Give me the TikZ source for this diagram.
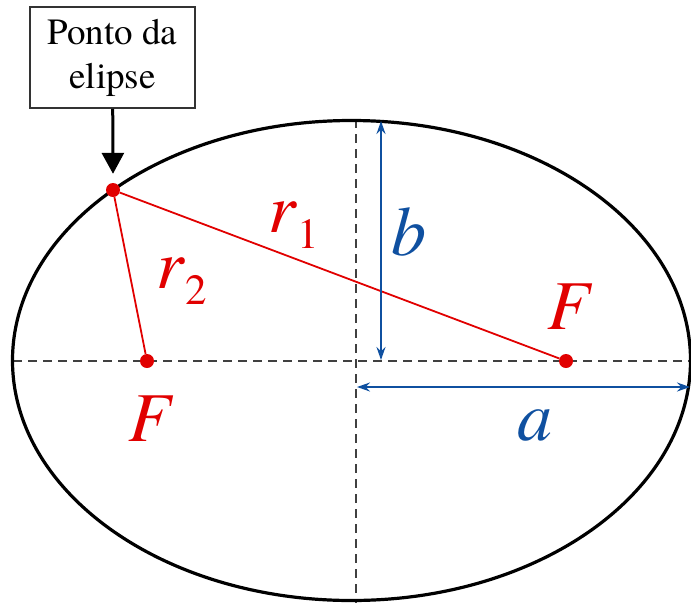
\documentclass[tikz,border=0pt]{standalone}
\usepackage{fontspec}
\setmainfont{texgyretermes}[Extension=.otf, UprightFont=*-regular, ItalicFont=*-italic, BoldFont=*-bold, BoldItalicFont=*-bolditalic]
\usetikzlibrary{arrows.meta, positioning}

\definecolor{ptred}{RGB}{225,0,0}
\definecolor{ptblue}{RGB}{15,80,160}

\newcommand{\rsub}[1]{\textit{r}\raisebox{-16pt}{\fontsize{43}{43}\selectfont #1}}

\begin{document}
\begin{tikzpicture}[
    x=1pt, y=-1pt,
    box/.style={rectangle, draw=black!80, line width=1.5pt, fill=white, align=center, font=\fontsize{37}{44}\selectfont, minimum width=165pt, minimum height=101pt, inner sep=0pt},
    arrow/.style={-{Triangle[width=22pt,length=21pt]}, line width=3pt},
    axisline/.style={dash pattern=on 9pt off 6pt, line width=1.8pt, black!75},
    dot/.style={circle, fill=ptred, inner sep=0pt, minimum size=14pt},
    rline/.style={ptred, line width=1.8pt},
    dim/.style={{Stealth[length=13pt,width=9pt]}-{Stealth[length=13pt,width=9pt]}, ptblue, line width=1.8pt},
    sym/.style={font=\fontsize{70}{70}\selectfont, inner sep=0pt}
]
\useasboundingbox (0,0) rectangle (691,603);

% Axes
\coordinate (W) at (13,361);
\coordinate (E) at (691,361);
\coordinate (N) at (356,119);
\coordinate (S) at (356,603);
\draw[axisline] (W) -- (E);
\draw[axisline] (N) -- (S);

% Ellipse
\coordinate (O) at (351.5,360.5);
\draw[line width=3.2pt] (O) ellipse [x radius=339, y radius=240];

% Foci and point
\node[dot] (F1) at (147,361) {};
\node[dot] (F2) at (566,361) {};
\node[dot] (P) at (113,190) {};

\draw[rline] (P) -- (F1);
\draw[rline] (P) -- (F2);

% Focus labels
\node[sym, text=ptred, below=27pt of F1, xshift=4pt] (lf1) {\textit{F}};
\node[sym, text=ptred, above=24pt of F2, xshift=4pt] (lf2) {\textit{F}};
\node[sym, text=ptred, anchor=base west] (lr1) at (268,232) {\rsub{1}};
\node[sym, text=ptred, anchor=base west] (lr2) at (156,288) {\rsub{2}};

% Semi-axes
\coordinate (btop) at (381,121);
\coordinate (bbot) at (381,360);
\coordinate (aleft) at (357,387);
\coordinate (aright) at (690,387);
\draw[dim] (btop) -- (bbot);
\draw[dim] (aleft) -- (aright);
\node[sym, text=ptblue, anchor=base] (lb) at (409,255) {\textit{b}};
\node[sym, text=ptblue, anchor=base] (la) at (535,440) {\textit{a}};

% Callout
\node[box] (box) at (112.5,57.5) {Ponto da\\elipse};
\draw[arrow] (box) -- ([yshift=9pt]P.north);

\end{tikzpicture}
\end{document}
